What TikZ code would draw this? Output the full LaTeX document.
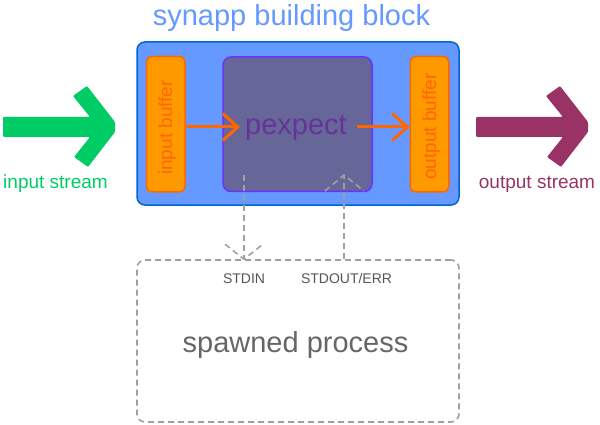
\documentclass[tikz,border=0pt]{standalone}
\usepackage{fontspec}
\setmainfont{Liberation Sans}
\usetikzlibrary{arrows.meta,calc}
\definecolor{titleblue}{HTML}{6699FF}
\definecolor{blockfill}{HTML}{6699FF}
\definecolor{blockline}{HTML}{0066CC}
\definecolor{buffill}{HTML}{FF9900}
\definecolor{orangeline}{HTML}{FF6600}
\definecolor{pexfill}{HTML}{666699}
\definecolor{pexline}{HTML}{6633FF}
\definecolor{pextext}{HTML}{663399}
\definecolor{instream}{HTML}{00CC66}
\definecolor{outstream}{HTML}{993366}
\definecolor{dashgray}{HTML}{A0A0A0}
\definecolor{labgray}{HTML}{555555}
\definecolor{spgray}{HTML}{666666}
\tikzset{
  bufbox/.style={draw=orangeline, fill=buffill, line width=1.5pt, rounded corners=6pt, minimum width=38.5pt, minimum height=135.5pt, inner sep=0pt},
  buftext/.style={text=orangeline, font=\fontsize{19}{22}\selectfont, rotate=90, anchor=base, inner sep=0pt},
  flow/.style={draw=orangeline, line width=3pt, -{Straight Barb[length=15pt,width=27pt,line width=3pt]}},
  pipe/.style={draw=dashgray, line width=1.6pt, dash pattern=on 6pt off 4pt},
  pipelabel/.style={text=labgray, font=\fontsize{14}{16}\selectfont, anchor=base, inner sep=0pt},
  streamlabel/.style={font=\fontsize{19}{22}\selectfont, anchor=base, inner sep=0pt},
  bigtext/.style={font=\fontsize{29}{33}\selectfont, anchor=base, inner sep=0pt}
}
\begin{document}
\begin{tikzpicture}[x=1pt,y=-1pt]
\useasboundingbox (0,0) rectangle (600,425);
% title
\node[bigtext, text=titleblue] (title) at (291.5,26) {synapp building block};
% outer block
\node[draw=blockline, line width=1.5pt, minimum width=322pt, minimum height=163pt, inner sep=0pt, rounded corners=8pt, fill=blockfill] (block) at (298,123.5) {};
% buffers
\node[bufbox] (ibbox) at (165.75,124.25) {};
\node[buftext] (ib) at (172,127.5) {input buffer};
\node[bufbox] (obbox) at (429.5,124.25) {};
\node[buftext] (ob) at (436,126.5) {output buffer};
% pexpect
\node[draw=pexline, fill=pexfill, line width=1.5pt, rounded corners=8pt, minimum width=149pt, minimum height=134.5pt, inner sep=0pt] (pebox) at (297.5,124.25) {};
\node[bigtext, text=pextext] (pe) at (296,135) {pexpect};
\coordinate (peIn) at (240,127);
\coordinate (peOut) at (357,127);
\draw[flow] (ibbox.east |- peIn) -- (peIn);
\draw[flow] (peOut) -- (obbox.west |- peOut);
% stream arrows
\fill[instream, rounded corners=1pt] (3,117) -- (90,117) -- (73,96) -- (87,86) -- (115,122) -- (115,132) -- (88,167) -- (74,157) -- (90,137) -- (3,137) -- cycle;
\node[streamlabel, text=instream] (inlab) at (55.5,189) {input stream};
\fill[outstream, rounded corners=1pt] (476,117) -- (563,117) -- (546,96) -- (560,86) -- (588,122) -- (588,132) -- (561,167) -- (547,157) -- (563,137) -- (476,137) -- cycle;
\node[streamlabel, text=outstream] (outlab) at (537,188.5) {output stream};
% spawned process
\node[pipe, rounded corners=8pt, minimum width=322pt, minimum height=162pt, inner sep=0pt] (spbox) at (298,341) {};
\node[bigtext, text=spgray] (sp) at (295.5,352) {spawned process};
\node[pipelabel] (stdin) at (244,283) {STDIN};
\node[pipelabel] (stdout) at (346.5,283) {STDOUT/ERR};
% pipes
\coordinate (inTop) at (244,175);
\coordinate (outTop) at (344,175);
\coordinate (inBot) at (inTop |- spbox.north);
\coordinate (outBot) at (outTop |- spbox.north);
\draw[pipe] (inTop) -- (inBot);
\draw[pipe] ($(inBot)+(-19,-15)$) -- (inBot) -- ($(inBot)+(19,-15)$);
\draw[pipe] (outBot) -- (outTop);
\draw[pipe] ($(outTop)+(-19,16)$) -- (outTop) -- ($(outTop)+(20,16)$);
\end{tikzpicture}
\end{document}
